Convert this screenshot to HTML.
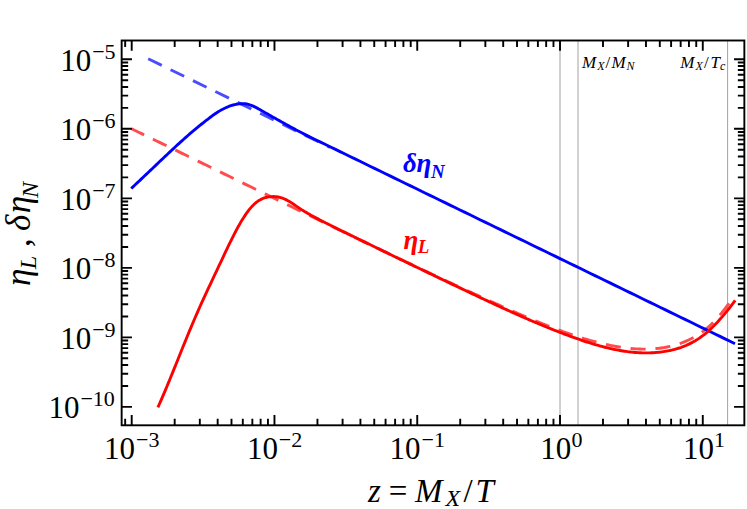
<!DOCTYPE html>
<html><head><meta charset="utf-8"><title>plot</title>
<style>html,body{margin:0;padding:0;background:#fff;}body{font-family:"Liberation Serif";overflow:hidden;}svg{display:block;}</style>
</head><body>
<svg width="747" height="509" viewBox="0 0 747 509">
<rect x="0" y="0" width="747" height="509" fill="#ffffff"/>
<line x1="560.0" y1="40.5" x2="560.0" y2="425.3" stroke="#a2a2a2" stroke-width="1"/>
<line x1="578.0" y1="40.5" x2="578.0" y2="425.3" stroke="#a2a2a2" stroke-width="1"/>
<line x1="727.6" y1="40.5" x2="727.6" y2="425.3" stroke="#a2a2a2" stroke-width="1"/>
<path d="M148.20,58.80 L330.00,147.34" fill="none" stroke="#4c4cff" stroke-width="2.9" stroke-dasharray="15.1 9.8"/>
<path d="M131.60,128.80 L133.10,129.53 L134.60,130.26 L136.10,130.98 L137.60,131.71 L139.10,132.44 L140.60,133.16 L142.10,133.89 L143.60,134.62 L145.10,135.35 L146.60,136.08 L148.10,136.80 L149.60,137.53 L151.10,138.26 L152.60,138.99 L154.10,139.72 L155.60,140.45 L157.10,141.18 L158.60,141.91 L160.10,142.64 L161.60,143.36 L163.10,144.09 L164.60,144.82 L166.10,145.55 L167.60,146.28 L169.10,147.01 L170.60,147.75 L172.10,148.48 L173.60,149.21 L175.10,149.94 L176.60,150.67 L178.10,151.40 L179.60,152.13 L181.10,152.86 L182.60,153.59 L184.10,154.32 L185.60,155.06 L187.10,155.79 L188.60,156.52 L190.10,157.25 L191.60,157.98 L193.10,158.71 L194.60,159.45 L196.10,160.18 L197.60,160.91 L199.10,161.64 L200.60,162.37 L202.10,163.11 L203.60,163.84 L205.10,164.57 L206.60,165.30 L208.10,166.04 L209.60,166.77 L211.10,167.50 L212.60,168.23 L214.10,168.97 L215.60,169.70 L217.10,170.43 L218.60,171.17 L220.10,171.90 L221.60,172.63 L223.10,173.36 L224.60,174.10 L226.10,174.83 L227.60,175.56 L229.10,176.29 L230.60,177.03 L232.10,177.76 L233.60,178.49 L235.10,179.23 L236.60,179.96 L238.10,180.69 L239.60,181.42 L241.10,182.16 L242.60,182.89 L244.10,183.62 L245.60,184.35 L247.10,185.09 L248.60,185.82 L250.10,186.55 L251.60,187.28 L253.10,188.02 L254.60,188.75 L256.10,189.48 L257.60,190.21 L259.10,190.95 L260.60,191.68 L262.10,192.41 L263.60,193.14 L265.10,193.87 L266.60,194.61 L268.10,195.34 L269.60,196.07 L271.10,196.80 L272.60,197.53 L274.10,198.26 L275.60,198.99 L277.10,199.73 L278.60,200.46 L280.10,201.19 L281.60,201.92 L283.10,202.65 L284.60,203.38 L286.10,204.11 L287.60,204.84 L289.10,205.57 L290.60,206.30 L292.10,207.03 L293.60,207.76 L295.10,208.49 L296.60,209.22 L298.10,209.95 L299.60,210.68 L301.10,211.41 L302.60,212.14 L304.10,212.86 L305.60,213.59 L307.10,214.32 L308.60,215.05 L310.10,215.78 L311.60,216.51 L313.10,217.23 L314.60,217.96 L316.10,218.69 L317.60,219.42 L319.10,220.14 L320.60,220.87 L322.10,221.60 L323.60,222.32 L325.10,223.05 L326.60,223.78 L328.10,224.50 L329.60,225.23 L331.10,225.95 L332.60,226.68 L334.10,227.40 L335.60,228.13 L337.10,228.85 L338.60,229.58 L340.10,230.30 L341.60,231.03 L343.10,231.75 L344.60,232.47 L346.10,233.20 L347.60,233.92 L349.10,234.65 L350.60,235.37 L352.10,236.09 L353.60,236.81 L355.10,237.54 L356.60,238.26 L358.10,238.98 L359.60,239.70 L361.10,240.42 L362.60,241.14 L364.10,241.86 L365.60,242.59 L367.10,243.31 L368.60,244.03 L370.10,244.75 L371.60,245.47 L373.10,246.19 L374.60,246.90 L376.10,247.62 L377.60,248.34 L379.10,249.06 L380.60,249.78 L382.10,250.50 L383.60,251.21 L385.10,251.93 L386.60,252.65 L388.10,253.37 L389.60,254.08 L391.10,254.80 L392.60,255.52 L394.10,256.23 L395.60,256.95 L397.10,257.66 L398.60,258.38 L400.10,259.09 L401.60,259.81 L403.10,260.52 L404.60,261.24 L406.10,261.95 L407.60,262.66 L409.10,263.38 L410.60,264.09 L412.10,264.80 L413.60,265.51 L415.10,266.22 L416.60,266.93 L418.10,267.65 L419.60,268.36 L421.10,269.07 L422.60,269.78 L424.10,270.48 L425.60,271.19 L427.10,271.90 L428.60,272.61 L430.10,273.32 L431.60,274.02 L433.10,274.73 L434.60,275.43 L436.10,276.14 L437.60,276.84 L439.10,277.55 L440.60,278.25 L442.10,278.95 L443.60,279.65 L445.10,280.36 L446.60,281.06 L448.10,281.76 L449.60,282.46 L451.10,283.16 L452.60,283.85 L454.10,284.55 L455.60,285.25 L457.10,285.94 L458.60,286.64 L460.10,287.34 L461.60,288.03 L463.10,288.72 L464.60,289.41 L466.10,290.11 L467.60,290.80 L469.10,291.49 L470.60,292.18 L472.10,292.87 L473.60,293.55 L475.10,294.24 L476.60,294.93 L478.10,295.61 L479.60,296.30 L481.10,296.98 L482.60,297.66 L484.10,298.34 L485.60,299.02 L487.10,299.70 L488.60,300.38 L490.10,301.06 L491.60,301.74 L493.10,302.41 L494.60,303.09 L496.10,303.76 L497.60,304.44 L499.10,305.11 L500.60,305.78 L502.10,306.45 L503.60,307.12 L505.10,307.78 L506.60,308.45 L508.10,309.12 L509.60,309.78 L511.10,310.44 L512.60,311.10 L514.10,311.76 L515.60,312.41 L517.10,313.07 L518.60,313.72 L520.10,314.37 L521.60,315.01 L523.10,315.66 L524.60,316.30 L526.10,316.94 L527.60,317.58 L529.10,318.21 L530.60,318.84 L532.10,319.47 L533.60,320.09 L535.10,320.72 L536.60,321.33 L538.10,321.95 L539.60,322.56 L541.10,323.17 L542.60,323.77 L544.10,324.37 L545.60,324.97 L547.10,325.56 L548.60,326.15 L550.10,326.73 L551.60,327.31 L553.10,327.89 L554.60,328.46 L556.10,329.03 L557.60,329.59 L559.10,330.15 L560.60,330.70 L562.10,331.25 L563.60,331.79 L565.10,332.32 L566.60,332.86 L568.10,333.38 L569.60,333.90 L571.10,334.42 L572.60,334.93 L574.10,335.43 L575.60,335.93 L577.10,336.42 L578.60,336.91 L580.10,337.39 L581.60,337.86 L583.10,338.32 L584.60,338.78 L586.10,339.23 L587.60,339.68 L589.10,340.11 L590.60,340.54 L592.10,340.96 L593.60,341.37 L595.10,341.77 L596.60,342.17 L598.10,342.56 L599.60,342.93 L601.10,343.30 L602.60,343.66 L604.10,344.01 L605.60,344.35 L607.10,344.68 L608.60,345.00 L610.10,345.31 L611.60,345.61 L613.10,345.90 L614.60,346.18 L616.10,346.45 L617.60,346.71 L619.10,346.95 L620.60,347.19 L622.10,347.41 L623.60,347.62 L625.10,347.82 L626.60,348.00 L628.10,348.18 L629.60,348.34 L631.10,348.48 L632.60,348.61 L634.10,348.73 L635.60,348.83 L637.10,348.92 L638.60,348.99 L640.10,349.04 L641.60,349.08 L643.10,349.11 L644.60,349.12 L646.10,349.11 L647.60,349.08 L649.10,349.04 L650.60,348.98 L652.10,348.90 L653.60,348.80 L655.10,348.69 L656.60,348.55 L658.10,348.40 L659.60,348.22 L661.10,348.02 L662.60,347.80 L664.10,347.56 L665.60,347.30 L667.10,347.01 L668.60,346.70 L670.10,346.36 L671.60,346.00 L673.10,345.62 L674.60,345.21 L676.10,344.77 L677.60,344.30 L679.10,343.81 L680.60,343.29 L682.10,342.74 L683.60,342.16 L685.10,341.55 L686.60,340.91 L688.10,340.24 L689.60,339.54 L691.10,338.80 L692.60,338.02 L694.10,337.20 L695.60,336.34 L697.10,335.44 L698.60,334.49 L700.10,333.49 L701.60,332.44 L703.10,331.34 L704.60,330.19 L706.10,328.98 L707.60,327.72 L709.10,326.40 L710.60,325.01 L712.10,323.56 L713.60,322.05 L715.10,320.48 L716.60,318.85 L718.10,317.16 L719.60,315.41 L721.10,313.62 L722.60,311.77 L724.10,309.88 L725.60,307.94 L727.10,305.97 L728.60,303.95 L730.10,301.90" fill="none" stroke="#ff4c4c" stroke-width="2.9" stroke-dasharray="15.1 9.8" stroke-dashoffset="1.2" stroke-linejoin="round"/>
<path d="M131.20,188.49 L132.70,187.10 L134.20,185.70 L135.70,184.30 L137.20,182.89 L138.70,181.48 L140.20,180.07 L141.70,178.65 L143.20,177.23 L144.70,175.81 L146.20,174.39 L147.70,172.96 L149.20,171.54 L150.70,170.11 L152.20,168.68 L153.70,167.25 L155.20,165.83 L156.70,164.40 L158.20,162.97 L159.70,161.55 L161.20,160.12 L162.70,158.70 L164.20,157.28 L165.70,155.87 L167.20,154.45 L168.70,153.04 L170.20,151.64 L171.70,150.24 L173.20,148.84 L174.70,147.45 L176.20,146.06 L177.70,144.68 L179.20,143.31 L180.70,141.94 L182.20,140.58 L183.70,139.23 L185.20,137.90 L186.70,136.57 L188.20,135.26 L189.70,133.95 L191.20,132.67 L192.70,131.39 L194.20,130.13 L195.70,128.88 L197.20,127.65 L198.70,126.42 L200.20,125.21 L201.70,124.00 L203.20,122.80 L204.70,121.62 L206.20,120.44 L207.70,119.27 L209.20,118.12 L210.70,116.99 L212.20,115.88 L213.70,114.80 L215.20,113.76 L216.70,112.75 L218.20,111.79 L219.70,110.88 L221.20,110.01 L222.70,109.20 L224.20,108.44 L225.70,107.73 L227.20,107.08 L228.70,106.48 L230.20,105.94 L231.70,105.44 L233.20,105.01 L234.70,104.62 L236.20,104.30 L237.70,104.03 L239.20,103.83 L240.70,103.70 L242.20,103.65 L243.70,103.68 L245.20,103.80 L246.70,104.03 L248.20,104.35 L249.70,104.78 L251.20,105.31 L252.70,105.92 L254.20,106.60 L255.70,107.34 L257.20,108.13 L258.70,108.96 L260.20,109.81 L261.70,110.67 L263.20,111.53 L264.70,112.39 L266.20,113.25 L267.70,114.11 L269.20,114.96 L270.70,115.81 L272.20,116.66 L273.70,117.51 L275.20,118.36 L276.70,119.20 L278.20,120.04 L279.70,120.88 L281.20,121.72 L282.70,122.55 L284.20,123.39 L285.70,124.21 L287.20,125.04 L288.70,125.86 L290.20,126.68 L291.70,127.50 L293.20,128.31 L294.70,129.12 L296.20,129.92 L297.70,130.71 L299.20,131.50 L300.70,132.29 L302.20,133.07 L303.70,133.84 L305.20,134.60 L306.70,135.36 L308.20,136.11 L309.70,136.85 L310.00,137.00 L315.00,139.43 L320.00,141.86 L325.00,144.30 L330.00,146.73 L335.00,149.16 L340.00,151.59 L345.00,154.02 L350.00,156.45 L355.00,158.89 L360.00,161.32 L365.00,163.75 L370.00,166.18 L375.00,168.61 L380.00,171.04 L385.00,173.48 L390.00,175.91 L395.00,178.34 L400.00,180.77 L405.00,183.20 L410.00,185.64 L415.00,188.07 L420.00,190.50 L425.00,192.93 L430.00,195.36 L435.00,197.79 L440.00,200.23 L445.00,202.66 L450.00,205.09 L455.00,207.52 L460.00,209.95 L465.00,212.38 L470.00,214.82 L475.00,217.25 L480.00,219.68 L485.00,222.11 L490.00,224.54 L495.00,226.98 L500.00,229.41 L505.00,231.84 L510.00,234.27 L515.00,236.70 L520.00,239.13 L525.00,241.57 L530.00,244.00 L535.00,246.43 L540.00,248.86 L545.00,251.29 L550.00,253.72 L555.00,256.16 L560.00,258.59 L565.00,261.02 L570.00,263.45 L575.00,265.88 L580.00,268.32 L585.00,270.75 L590.00,273.18 L595.00,275.61 L600.00,278.04 L605.00,280.47 L610.00,282.91 L615.00,285.34 L620.00,287.77 L625.00,290.20 L630.00,292.63 L635.00,295.06 L640.00,297.50 L645.00,299.93 L650.00,302.36 L655.00,304.79 L660.00,307.22 L665.00,309.66 L670.00,312.09 L675.00,314.52 L680.00,316.95 L685.00,319.38 L690.00,321.81 L695.00,324.25 L700.00,326.68 L705.00,329.11 L710.00,331.54 L715.00,333.97 L720.00,336.40 L725.00,338.84 L730.00,341.27 L735.00,343.70" fill="none" stroke="#0000ff" stroke-width="2.9" stroke-linejoin="round"/>
<path d="M157.90,407.40 L159.40,404.03 L160.90,400.61 L162.40,397.14 L163.90,393.62 L165.40,390.07 L166.90,386.48 L168.40,382.86 L169.90,379.21 L171.40,375.54 L172.90,371.85 L174.40,368.15 L175.90,364.43 L177.40,360.71 L178.90,356.99 L180.40,353.26 L181.90,349.54 L183.40,345.83 L184.90,342.14 L186.40,338.46 L187.90,334.80 L189.40,331.17 L190.90,327.57 L192.40,324.01 L193.90,320.48 L195.40,316.99 L196.90,313.55 L198.40,310.15 L199.90,306.78 L201.40,303.45 L202.90,300.16 L204.40,296.89 L205.90,293.64 L207.40,290.41 L208.90,287.21 L210.40,284.01 L211.90,280.83 L213.40,277.66 L214.90,274.49 L216.40,271.32 L217.90,268.15 L219.40,264.97 L220.90,261.79 L222.40,258.60 L223.90,255.41 L225.40,252.23 L226.90,249.08 L228.40,245.95 L229.90,242.85 L231.40,239.80 L232.90,236.80 L234.40,233.86 L235.90,230.99 L237.40,228.19 L238.90,225.48 L240.40,222.86 L241.90,220.34 L243.40,217.92 L244.90,215.62 L246.40,213.43 L247.90,211.37 L249.40,209.43 L250.90,207.63 L252.40,205.97 L253.90,204.46 L255.40,203.10 L256.90,201.90 L258.40,200.84 L259.90,199.92 L261.40,199.13 L262.90,198.46 L264.40,197.91 L265.90,197.47 L267.40,197.12 L268.90,196.86 L270.40,196.68 L271.90,196.59 L273.40,196.56 L274.90,196.62 L276.40,196.76 L277.90,196.99 L279.40,197.29 L280.90,197.69 L282.40,198.17 L283.90,198.74 L285.40,199.40 L286.90,200.15 L288.40,200.98 L289.90,201.87 L291.40,202.81 L292.90,203.80 L294.40,204.81 L295.90,205.83 L297.40,206.86 L298.90,207.88 L300.40,208.88 L301.90,209.85 L303.40,210.80 L304.90,211.71 L306.40,212.61 L307.90,213.48 L309.40,214.33 L310.90,215.16 L312.40,215.98 L313.90,216.79 L315.40,217.58 L316.90,218.37 L318.40,219.15 L319.90,219.92 L321.40,220.69 L322.90,221.45 L324.40,222.22 L325.90,222.98 L327.40,223.73 L328.90,224.49 L330.40,225.24 L331.90,225.99 L333.40,226.74 L334.90,227.48 L336.40,228.23 L337.90,228.97 L339.40,229.71 L340.90,230.45 L342.40,231.18 L343.90,231.92 L345.40,232.65 L346.90,233.39 L348.40,234.12 L349.90,234.85 L351.40,235.58 L352.90,236.31 L354.40,237.04 L355.90,237.77 L357.40,238.49 L358.90,239.22 L360.40,239.95 L361.90,240.68 L363.40,241.41 L364.90,242.13 L366.40,242.86 L367.90,243.59 L369.40,244.32 L370.90,245.05 L372.40,245.77 L373.90,246.50 L375.40,247.23 L376.90,247.96 L378.40,248.68 L379.90,249.41 L381.40,250.14 L382.90,250.87 L384.40,251.59 L385.90,252.32 L387.40,253.05 L388.90,253.77 L390.40,254.50 L391.90,255.23 L393.40,255.95 L394.90,256.68 L396.40,257.40 L397.90,258.13 L399.40,258.86 L400.90,259.58 L402.40,260.31 L403.90,261.03 L405.40,261.76 L406.90,262.48 L408.40,263.21 L409.90,263.93 L411.40,264.66 L412.90,265.38 L414.40,266.10 L415.90,266.83 L417.40,267.55 L418.90,268.27 L420.40,269.00 L421.90,269.72 L423.40,270.44 L424.90,271.16 L426.40,271.88 L427.90,272.60 L429.40,273.33 L430.90,274.05 L432.40,274.77 L433.90,275.49 L435.40,276.21 L436.90,276.93 L438.40,277.65 L439.90,278.36 L441.40,279.08 L442.90,279.80 L444.40,280.52 L445.90,281.24 L447.40,281.95 L448.90,282.67 L450.40,283.39 L451.90,284.10 L453.40,284.82 L454.90,285.53 L456.40,286.25 L457.90,286.96 L459.40,287.68 L460.90,288.39 L462.40,289.10 L463.90,289.81 L465.40,290.53 L466.90,291.24 L468.40,291.95 L469.90,292.66 L471.40,293.37 L472.90,294.08 L474.40,294.79 L475.90,295.50 L477.40,296.21 L478.90,296.91 L480.40,297.62 L481.90,298.32 L483.40,299.03 L484.90,299.73 L486.40,300.43 L487.90,301.13 L489.40,301.83 L490.90,302.53 L492.40,303.23 L493.90,303.93 L495.40,304.62 L496.90,305.32 L498.40,306.01 L499.90,306.70 L501.40,307.39 L502.90,308.07 L504.40,308.76 L505.90,309.44 L507.40,310.12 L508.90,310.80 L510.40,311.48 L511.90,312.16 L513.40,312.83 L514.90,313.50 L516.40,314.17 L517.90,314.84 L519.40,315.50 L520.90,316.16 L522.40,316.82 L523.90,317.48 L525.40,318.13 L526.90,318.79 L528.40,319.43 L529.90,320.08 L531.40,320.72 L532.90,321.37 L534.40,322.00 L535.90,322.64 L537.40,323.27 L538.90,323.90 L540.40,324.52 L541.90,325.15 L543.40,325.77 L544.90,326.38 L546.40,326.99 L547.90,327.60 L549.40,328.21 L550.90,328.81 L552.40,329.41 L553.90,330.00 L555.40,330.60 L556.90,331.18 L558.40,331.77 L559.90,332.35 L561.40,332.92 L562.90,333.49 L564.40,334.06 L565.90,334.62 L567.40,335.18 L568.90,335.74 L570.40,336.29 L571.90,336.83 L573.40,337.38 L574.90,337.91 L576.40,338.44 L577.90,338.97 L579.40,339.49 L580.90,340.00 L582.40,340.51 L583.90,341.01 L585.40,341.51 L586.90,342.00 L588.40,342.48 L589.90,342.95 L591.40,343.42 L592.90,343.88 L594.40,344.32 L595.90,344.77 L597.40,345.20 L598.90,345.62 L600.40,346.04 L601.90,346.44 L603.40,346.84 L604.90,347.22 L606.40,347.60 L607.90,347.96 L609.40,348.31 L610.90,348.66 L612.40,348.99 L613.90,349.31 L615.40,349.62 L616.90,349.91 L618.40,350.20 L619.90,350.47 L621.40,350.73 L622.90,350.97 L624.40,351.20 L625.90,351.42 L627.40,351.63 L628.90,351.82 L630.40,352.00 L631.90,352.16 L633.40,352.31 L634.90,352.44 L636.40,352.56 L637.90,352.66 L639.40,352.74 L640.90,352.81 L642.40,352.86 L643.90,352.90 L645.40,352.92 L646.90,352.92 L648.40,352.90 L649.90,352.86 L651.40,352.81 L652.90,352.73 L654.40,352.64 L655.90,352.53 L657.40,352.40 L658.90,352.24 L660.40,352.07 L661.90,351.88 L663.40,351.66 L664.90,351.43 L666.40,351.17 L667.90,350.89 L669.40,350.59 L670.90,350.26 L672.40,349.92 L673.90,349.54 L675.40,349.14 L676.90,348.72 L678.40,348.26 L679.90,347.77 L681.40,347.26 L682.90,346.71 L684.40,346.12 L685.90,345.50 L687.40,344.84 L688.90,344.15 L690.40,343.41 L691.90,342.64 L693.40,341.82 L694.90,340.96 L696.40,340.05 L697.90,339.10 L699.40,338.10 L700.90,337.05 L702.40,335.95 L703.90,334.80 L705.40,333.59 L706.90,332.33 L708.40,331.02 L709.90,329.66 L711.40,328.25 L712.90,326.80 L714.40,325.29 L715.90,323.74 L717.40,322.15 L718.90,320.51 L720.40,318.84 L721.90,317.12 L723.40,315.37 L724.90,313.58 L726.40,311.75 L727.90,309.89 L729.40,308.00 L730.90,306.08 L732.40,304.13 L733.90,302.15 L735.20,300.41" fill="none" stroke="#ff0000" stroke-width="2.9" stroke-linejoin="round"/>
<path d="M125.17,40.5 v6.5 M125.17,425.3 v-6.5 M131.70,40.5 v10.3 M131.70,425.3 v-10.3 M174.68,40.5 v6.5 M174.68,425.3 v-6.5 M199.82,40.5 v6.5 M199.82,425.3 v-6.5 M217.66,40.5 v6.5 M217.66,425.3 v-6.5 M231.49,40.5 v6.5 M231.49,425.3 v-6.5 M242.80,40.5 v6.5 M242.80,425.3 v-6.5 M252.35,40.5 v6.5 M252.35,425.3 v-6.5 M260.63,40.5 v6.5 M260.63,425.3 v-6.5 M267.94,40.5 v6.5 M267.94,425.3 v-6.5 M274.47,40.5 v10.3 M274.47,425.3 v-10.3 M317.45,40.5 v6.5 M317.45,425.3 v-6.5 M342.59,40.5 v6.5 M342.59,425.3 v-6.5 M360.43,40.5 v6.5 M360.43,425.3 v-6.5 M374.26,40.5 v6.5 M374.26,425.3 v-6.5 M385.57,40.5 v6.5 M385.57,425.3 v-6.5 M395.12,40.5 v6.5 M395.12,425.3 v-6.5 M403.40,40.5 v6.5 M403.40,425.3 v-6.5 M410.71,40.5 v6.5 M410.71,425.3 v-6.5 M417.24,40.5 v10.3 M417.24,425.3 v-10.3 M460.22,40.5 v6.5 M460.22,425.3 v-6.5 M485.36,40.5 v6.5 M485.36,425.3 v-6.5 M503.20,40.5 v6.5 M503.20,425.3 v-6.5 M517.03,40.5 v6.5 M517.03,425.3 v-6.5 M528.34,40.5 v6.5 M528.34,425.3 v-6.5 M537.89,40.5 v6.5 M537.89,425.3 v-6.5 M546.17,40.5 v6.5 M546.17,425.3 v-6.5 M553.48,40.5 v6.5 M553.48,425.3 v-6.5 M560.01,40.5 v10.3 M560.01,425.3 v-10.3 M602.99,40.5 v6.5 M602.99,425.3 v-6.5 M628.13,40.5 v6.5 M628.13,425.3 v-6.5 M645.97,40.5 v6.5 M645.97,425.3 v-6.5 M659.80,40.5 v6.5 M659.80,425.3 v-6.5 M671.11,40.5 v6.5 M671.11,425.3 v-6.5 M680.66,40.5 v6.5 M680.66,425.3 v-6.5 M688.94,40.5 v6.5 M688.94,425.3 v-6.5 M696.25,40.5 v6.5 M696.25,425.3 v-6.5 M702.78,40.5 v10.3 M702.78,425.3 v-10.3 M121.65,406.90 h10.3 M744.35,406.90 h-10.3 M121.65,385.97 h6.5 M744.35,385.97 h-6.5 M121.65,373.73 h6.5 M744.35,373.73 h-6.5 M121.65,365.04 h6.5 M744.35,365.04 h-6.5 M121.65,358.31 h6.5 M744.35,358.31 h-6.5 M121.65,352.80 h6.5 M744.35,352.80 h-6.5 M121.65,348.15 h6.5 M744.35,348.15 h-6.5 M121.65,344.12 h6.5 M744.35,344.12 h-6.5 M121.65,340.56 h6.5 M744.35,340.56 h-6.5 M121.65,337.38 h10.3 M744.35,337.38 h-10.3 M121.65,316.45 h6.5 M744.35,316.45 h-6.5 M121.65,304.21 h6.5 M744.35,304.21 h-6.5 M121.65,295.52 h6.5 M744.35,295.52 h-6.5 M121.65,288.79 h6.5 M744.35,288.79 h-6.5 M121.65,283.28 h6.5 M744.35,283.28 h-6.5 M121.65,278.63 h6.5 M744.35,278.63 h-6.5 M121.65,274.60 h6.5 M744.35,274.60 h-6.5 M121.65,271.04 h6.5 M744.35,271.04 h-6.5 M121.65,267.86 h10.3 M744.35,267.86 h-10.3 M121.65,246.93 h6.5 M744.35,246.93 h-6.5 M121.65,234.69 h6.5 M744.35,234.69 h-6.5 M121.65,226.00 h6.5 M744.35,226.00 h-6.5 M121.65,219.27 h6.5 M744.35,219.27 h-6.5 M121.65,213.76 h6.5 M744.35,213.76 h-6.5 M121.65,209.11 h6.5 M744.35,209.11 h-6.5 M121.65,205.08 h6.5 M744.35,205.08 h-6.5 M121.65,201.52 h6.5 M744.35,201.52 h-6.5 M121.65,198.34 h10.3 M744.35,198.34 h-10.3 M121.65,177.41 h6.5 M744.35,177.41 h-6.5 M121.65,165.17 h6.5 M744.35,165.17 h-6.5 M121.65,156.48 h6.5 M744.35,156.48 h-6.5 M121.65,149.75 h6.5 M744.35,149.75 h-6.5 M121.65,144.24 h6.5 M744.35,144.24 h-6.5 M121.65,139.59 h6.5 M744.35,139.59 h-6.5 M121.65,135.56 h6.5 M744.35,135.56 h-6.5 M121.65,132.00 h6.5 M744.35,132.00 h-6.5 M121.65,128.82 h10.3 M744.35,128.82 h-10.3 M121.65,107.89 h6.5 M744.35,107.89 h-6.5 M121.65,95.65 h6.5 M744.35,95.65 h-6.5 M121.65,86.96 h6.5 M744.35,86.96 h-6.5 M121.65,80.23 h6.5 M744.35,80.23 h-6.5 M121.65,74.72 h6.5 M744.35,74.72 h-6.5 M121.65,70.07 h6.5 M744.35,70.07 h-6.5 M121.65,66.04 h6.5 M744.35,66.04 h-6.5 M121.65,62.48 h6.5 M744.35,62.48 h-6.5 M121.65,59.30 h10.3 M744.35,59.30 h-10.3" fill="none" stroke="#000" stroke-width="1.9"/>
<rect x="121.65" y="40.5" width="622.70" height="384.80" fill="none" stroke="#000" stroke-width="1.9"/>
<g font-family="'Liberation Serif', serif" fill="#000">
<text x="48.5" y="418.2" font-size="31">10</text><text x="80.4" y="406.2" font-size="22">−10</text>
<text x="60.3" y="348.7" font-size="31">10</text><text x="92.2" y="336.7" font-size="22">−9</text>
<text x="60.3" y="279.2" font-size="31">10</text><text x="92.2" y="267.2" font-size="22">−8</text>
<text x="60.3" y="209.6" font-size="31">10</text><text x="92.2" y="197.6" font-size="22">−7</text>
<text x="60.3" y="140.1" font-size="31">10</text><text x="92.2" y="128.1" font-size="22">−6</text>
<text x="60.3" y="70.6" font-size="31">10</text><text x="92.2" y="58.6" font-size="22">−5</text>
<text x="104.1" y="458.75" font-size="31">10</text><text x="136" y="446.75" font-size="22">−3</text>
<text x="246.9" y="458.75" font-size="31">10</text><text x="278.8" y="446.75" font-size="22">−2</text>
<text x="389.6" y="458.75" font-size="31">10</text><text x="421.5" y="446.75" font-size="22">−1</text>
<text x="540.2" y="458.75" font-size="31">10</text><text x="571.4" y="446.75" font-size="22">0</text>
<text x="683" y="458.75" font-size="31">10</text><text x="714" y="446.75" font-size="22">1</text>
<text y="501.8" font-size="33"><tspan x="368" font-style="italic">z</tspan><tspan x="388.8">=</tspan><tspan x="415" font-style="italic">M</tspan><tspan x="445.5" y="506.4" font-size="24" font-style="italic">X</tspan><tspan x="463.5" y="501.8">/</tspan><tspan x="475.5" font-style="italic">T</tspan></text>
<text y="67.9" font-size="17" font-style="italic"><tspan x="582">M</tspan><tspan x="597.2" y="69.7" font-size="12">X</tspan><tspan x="605.6" y="67.9" font-style="normal">/</tspan><tspan x="611.6">M</tspan><tspan x="626.4" y="69.7" font-size="12">N</tspan></text>
<text y="67.9" font-size="17" font-style="italic"><tspan x="680.3">M</tspan><tspan x="695.5" y="69.7" font-size="12">X</tspan><tspan x="703.9" y="67.9" font-style="normal">/</tspan><tspan x="710.5">T</tspan><tspan x="719.9" y="69.7" font-size="12">c</tspan></text>
<text transform="translate(30.1,285.9) rotate(-90)" font-size="35" font-style="italic"><tspan x="0" y="0">η</tspan><tspan x="16.7" y="5.9" font-size="24">L</tspan><tspan x="39" y="0" font-style="normal">,</tspan><tspan x="54.8" y="0">δ</tspan><tspan x="72.6" y="0">η</tspan><tspan x="88" y="8.2" font-size="24">N</tspan></text>
<text fill="#0000ff" font-size="27" font-style="italic" font-weight="bold"><tspan x="403" y="171.9">δ</tspan><tspan x="416.5" y="171.9">η</tspan><tspan x="431" y="177.8" font-size="19">N</tspan></text>
<text fill="#ff0000" font-size="27" font-style="italic" font-weight="bold"><tspan x="403.5" y="249">η</tspan><tspan x="417.7" y="253.2" font-size="19">L</tspan></text>
</g>
</svg></body></html>
